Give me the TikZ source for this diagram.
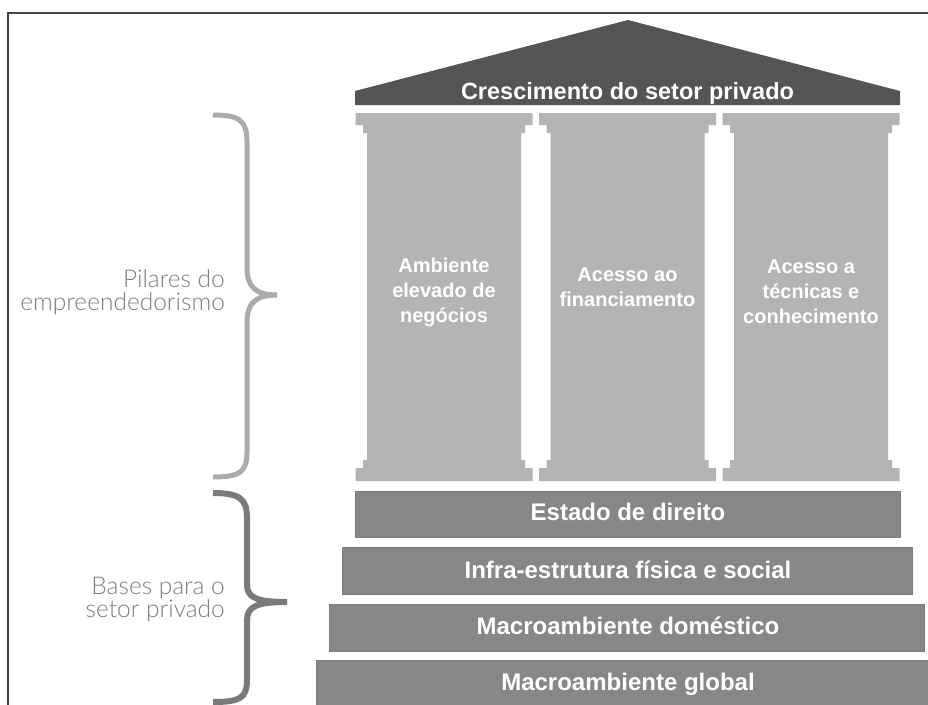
\documentclass[tikz,border=0pt]{standalone}
\usepackage{fontspec}
\setmainfont{Liberation Sans}
\newfontfamily\labelfont{Lato Light}

\definecolor{roofgray}{HTML}{555555}
\definecolor{pillargray}{HTML}{B4B4B4}
\definecolor{bargray}{HTML}{878787}
\definecolor{baredge}{HTML}{7C7C7C}
\definecolor{bracelight}{HTML}{ABABAB}
\definecolor{bracedark}{HTML}{7A7A7A}
\definecolor{labelgray}{HTML}{7E7E7E}
\definecolor{framegray}{HTML}{444444}

\tikzset{
  rooftext/.style={text=white, font=\fontsize{23.5}{26}\selectfont\bfseries, inner sep=0pt, anchor=base},
  bartext/.style={text=white, font=\fontsize{24}{26}\selectfont\bfseries, inner sep=0pt, anchor=base},
  pillartext/.style={text=white, font=\fontsize{20}{25}\selectfont\bfseries, align=center, inner sep=0pt},
  sidelabel/.style={text=labelgray, font=\labelfont\fontsize{24.5}{23}\selectfont, align=right, inner sep=0pt, anchor=east},
  barbox/.style={fill=bargray, draw=baredge, line width=0.8pt},
  bracelightline/.style={draw=bracelight, line width=5pt},
  bracedarkline/.style={draw=bracedark, line width=6pt},
}

\begin{document}
\begin{tikzpicture}[x=1pt, y=-1pt]
  \useasboundingbox (0,0) rectangle (928,704);
  \clip (0,0) rectangle (928,704);
  \fill[white] (0,0) rectangle (928,704);

  % frame lines (top and left)
  \draw[framegray, line width=1.4pt] (8,710) -- (8,13) -- (930,13);

  % roof
  \fill[roofgray] (355,105) -- (355,91) -- (628,20) -- (900,91) -- (900,105) -- cycle;
  \node[rooftext] (roof) at (627.5,99) {Crescimento do setor privado};

  % pillars: capital, neck, shaft, foot, base
  \foreach \cx in {444,627.5,811} {
    \fill[pillargray]
      (\cx-88.5,113) -- (\cx+88.5,113) -- (\cx+88.5,125) -- (\cx+81,125) -- (\cx+81,133)
      -- (\cx+77,133) -- (\cx+77,460) -- (\cx+81,460) -- (\cx+81,468) -- (\cx+88.5,468)
      -- (\cx+88.5,481) -- (\cx-88.5,481) -- (\cx-88.5,468) -- (\cx-81,468) -- (\cx-81,460)
      -- (\cx-77,460) -- (\cx-77,133) -- (\cx-81,133) -- (\cx-81,125) -- (\cx-88.5,125) -- cycle;
  }
  \node[pillartext] (p1) at (444,292) {Ambiente\\elevado de\\negócios};
  \node[pillartext] (p2) at (627.5,287.5) {Acesso ao\\financiamento};
  \node[pillartext] (p3) at (811,292) {Acesso a\\técnicas e\\conhecimento};

  % foundation layers
  \path[barbox] (355.5,491) rectangle (900.5,537);
  \path[barbox] (342,547) rectangle (912.5,594);
  \path[barbox] (329,604) rectangle (924,651);
  \path[barbox] (316,660) rectangle (940,720);
  \node[bartext] (b1) at (628,520) {Estado de direito};
  \node[bartext] (b2) at (628,578) {Infra-estrutura física e social};
  \node[bartext] (b3) at (628,634) {Macroambiente doméstico};
  \node[bartext] (b4) at (628,690) {Macroambiente global};

  % braces
  \draw[bracelightline]
    (213,115) .. controls (240,115) and (247,121) .. (247,142) -- (247,268)
    .. controls (247,287) and (256,295) .. (277,295)
    .. controls (256,295) and (247,303) .. (247,322) -- (247,452)
    .. controls (247,472) and (240,477) .. (213,477);
  \draw[bracedarkline]
    (213,493) .. controls (240,493) and (247,499) .. (247,518) -- (247,585)
    .. controls (247,598) and (258,602) .. (287,602)
    .. controls (258,602) and (247,606) .. (247,620) -- (247,680)
    .. controls (247,698) and (240,702) .. (213,702);

  % side labels
  \node[sidelabel] (lp) at (225,292) {Pilares do\\empreendedorismo};
  \node[sidelabel] (lb) at (225,599) {Bases para o\\setor privado};
\end{tikzpicture}
\end{document}
